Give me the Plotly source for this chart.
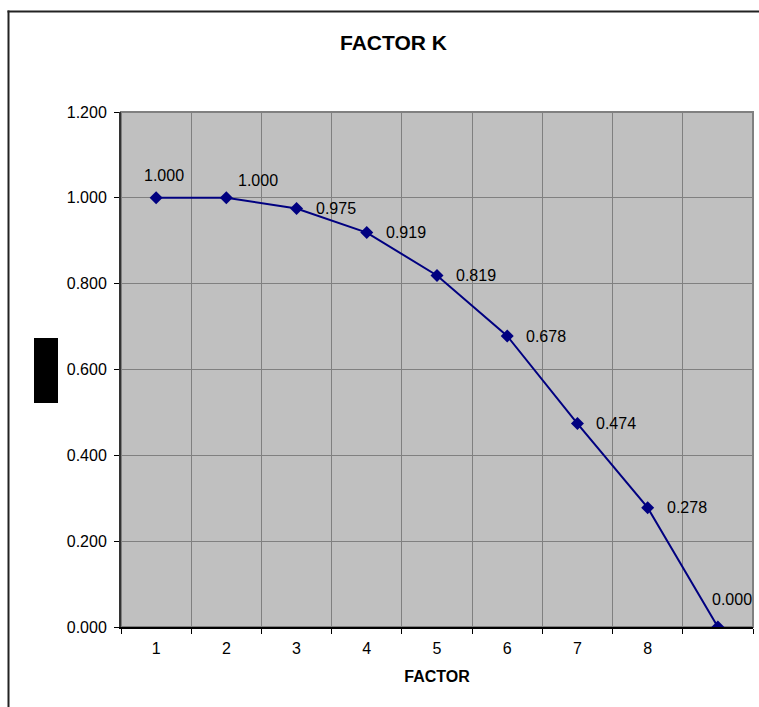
import plotly.graph_objects as go

# ---- data ----
factor = [1, 2, 3, 4, 5, 6, 7, 8, 9]
k_values = [1.000, 1.000, 0.975, 0.919, 0.819, 0.678, 0.474, 0.278, 0.000]
x_tick_vals = [1, 2, 3, 4, 5, 6, 7, 8]
x_tick_text = ["1", "2", "3", "4", "5", "6", "7", "8"]
y_tick_vals = [0.0, 0.2, 0.4, 0.6, 0.8, 1.0, 1.2]
y_tick_text = ["0.000", "0.200", "0.400", "0.600", "0.800", "1.000", "1.200"]
title_text = "FACTOR K"
x_title = "FACTOR"

# ---- style / label placement ----
FONT = "Arial, Liberation Sans, sans-serif"
NAVY = "#000080"
label_style = [  # (xanchor, xshift, yshift)
    ("center", 8, 22),
    ("left", 10, 17),
    ("left", 17, 0),
    ("left", 17, 0),
    ("left", 17, 0),
    ("left", 17, 0),
    ("left", 17, 0),
    ("left", 17, 0),
    ("center", 14, 28),
]

W, H = 759, 707
L, R, T, B = 121, 6, 112, 80
pw, ph = W - L - R, H - T - B

def px_to_paper_x(px):
    return (px - L) / pw

def px_to_paper_y(py):
    return (H - B - py) / ph

fig = go.Figure()
fig.add_trace(go.Scatter(
    x=factor, y=k_values, mode="lines+markers",
    line=dict(color=NAVY, width=2),
    marker=dict(symbol="diamond", size=10, color=NAVY),
    hoverinfo="x+y", showlegend=False,
))

annotations = []
for xv, yv, (xa, xs, ys) in zip(factor, k_values, label_style):
    annotations.append(dict(
        x=xv, y=yv, xref="x", yref="y", text=f"{yv:.3f}", showarrow=False,
        xanchor=xa, yanchor="middle", xshift=xs, yshift=ys,
        font=dict(family=FONT, size=16, color="black"),
    ))
annotations.append(dict(
    x=px_to_paper_x(393), y=px_to_paper_y(43), xref="paper", yref="paper",
    text=f"<b>{title_text}</b>", showarrow=False, xanchor="center", yanchor="middle",
    font=dict(family=FONT, size=21, color="black"),
))

frame_color = "#222222"
shapes = [
    # outer chart frame: left and top edges drawn as thin filled bars
    dict(type="rect", xref="paper", yref="paper",
         x0=px_to_paper_x(7.5), x1=px_to_paper_x(9.5),
         y0=px_to_paper_y(707), y1=px_to_paper_y(10.5),
         line=dict(width=0), fillcolor=frame_color, layer="below"),
    dict(type="rect", xref="paper", yref="paper",
         x0=px_to_paper_x(7.5), x1=px_to_paper_x(759),
         y0=px_to_paper_y(12.5), y1=px_to_paper_y(10.5),
         line=dict(width=0), fillcolor=frame_color, layer="below"),
    # plot-area border
    dict(type="rect", xref="paper", yref="paper", x0=0, x1=1, y0=0, y1=1,
         line=dict(color="#808080", width=2), fillcolor="rgba(0,0,0,0)", layer="below"),
    # y-axis title placeholder (black box)
    dict(type="rect", xref="paper", yref="paper",
         x0=px_to_paper_x(34), x1=px_to_paper_x(58),
         y0=px_to_paper_y(403), y1=px_to_paper_y(338),
         line=dict(width=0), fillcolor="black", layer="above"),
]

fig.update_layout(
    width=W, height=H,
    margin=dict(l=L, r=R, t=T, b=B, pad=0),
    paper_bgcolor="white", plot_bgcolor="#C0C0C0",
    font=dict(family=FONT, size=16, color="black"),
    annotations=annotations, shapes=shapes,
    xaxis=dict(
        range=[0.5, 9.5], tickmode="array", tickvals=x_tick_vals, ticktext=x_tick_text,
        showgrid=False, ticks="", ticklabelstandoff=6,
        showline=True, linecolor="black", linewidth=2, zeroline=False,
        tickfont=dict(family=FONT, size=16),
        minor=dict(tickmode="linear", tick0=0.5, dtick=1, showgrid=True,
                   gridcolor="#808080", gridwidth=1, ticks="outside",
                   ticklen=5, tickcolor="black", tickwidth=1),
        title=dict(text=f"<b>{x_title}</b>", font=dict(family=FONT, size=16), standoff=15),
        fixedrange=True,
    ),
    yaxis=dict(
        range=[0, 1.2], tickmode="array", tickvals=y_tick_vals, ticktext=y_tick_text,
        showgrid=True, gridcolor="#808080", gridwidth=1,
        ticks="outside", ticklen=5, tickcolor="black", tickwidth=1,
        showline=True, linecolor="#333333", linewidth=2, zeroline=False,
        tickfont=dict(family=FONT, size=16), ticklabelstandoff=4,
        fixedrange=True,
    ),
)

fig.write_html("out.html", config={"displayModeBar": False})
